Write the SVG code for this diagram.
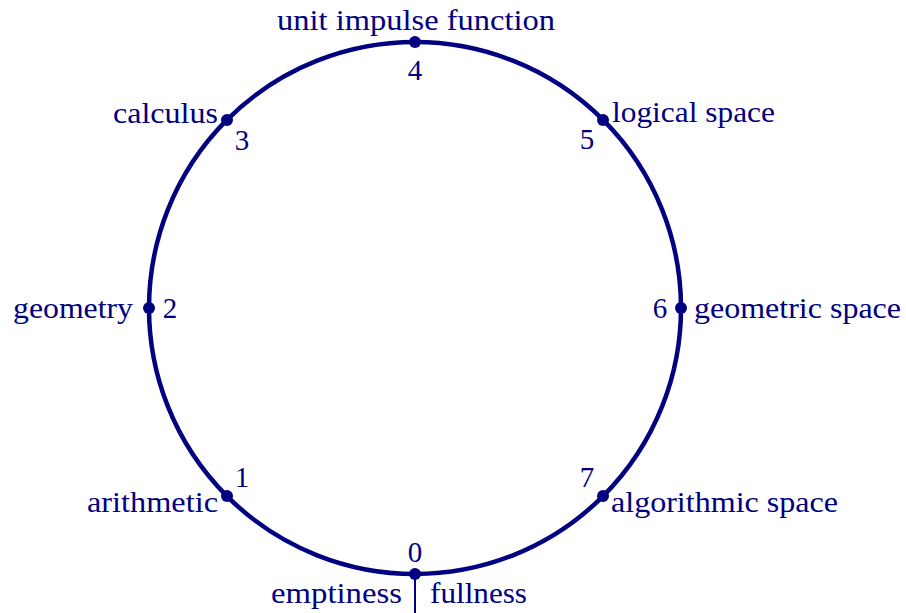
<svg xmlns="http://www.w3.org/2000/svg" width="906" height="613" viewBox="0 0 906 613">
<style>
text{font-family:"Liberation Serif","Times New Roman",serif;font-size:29px;fill:#000080}
.n{text-anchor:middle}
.dot{fill:#000080}
</style>
<rect width="906" height="613" fill="#fff"/>
<g id="connectors">
<circle cx="415" cy="308" r="266" fill="none" stroke="#000080" stroke-width="4.5"/>
<line x1="415" y1="574" x2="415" y2="613" stroke="#000080" stroke-width="2"/>
</g>
<g id="node0"><circle class="dot" cx="415" cy="574" r="6"/><text class="n" x="415" y="562">0</text><text x="271" y="603" textLength="131" lengthAdjust="spacingAndGlyphs">emptiness</text><text x="430" y="603" textLength="97" lengthAdjust="spacingAndGlyphs">fullness</text></g>
<g id="node1"><circle class="dot" cx="227" cy="496" r="6"/><text class="n" x="242" y="487">1</text><text x="87" y="512" textLength="131" lengthAdjust="spacingAndGlyphs">arithmetic</text></g>
<g id="node2"><circle class="dot" cx="149" cy="308" r="6"/><text class="n" x="170" y="318">2</text><text x="13" y="318" textLength="120" lengthAdjust="spacingAndGlyphs">geometry</text></g>
<g id="node3"><circle class="dot" cx="227" cy="120" r="6"/><text class="n" x="242" y="150">3</text><text x="113" y="123" textLength="105" lengthAdjust="spacingAndGlyphs">calculus</text></g>
<g id="node4"><circle class="dot" cx="415" cy="42" r="6"/><text class="n" x="415" y="80">4</text><text x="277" y="30" textLength="278" lengthAdjust="spacingAndGlyphs">unit impulse function</text></g>
<g id="node5"><circle class="dot" cx="603" cy="120" r="6"/><text class="n" x="587" y="149">5</text><text x="612" y="122" textLength="163" lengthAdjust="spacingAndGlyphs">logical space</text></g>
<g id="node6"><circle class="dot" cx="681" cy="308" r="6"/><text class="n" x="660" y="318">6</text><text x="694" y="318" textLength="207" lengthAdjust="spacingAndGlyphs">geometric space</text></g>
<g id="node7"><circle class="dot" cx="603" cy="496" r="6"/><text class="n" x="587" y="487">7</text><text x="611" y="512" textLength="227" lengthAdjust="spacingAndGlyphs">algorithmic space</text></g>
</svg>
